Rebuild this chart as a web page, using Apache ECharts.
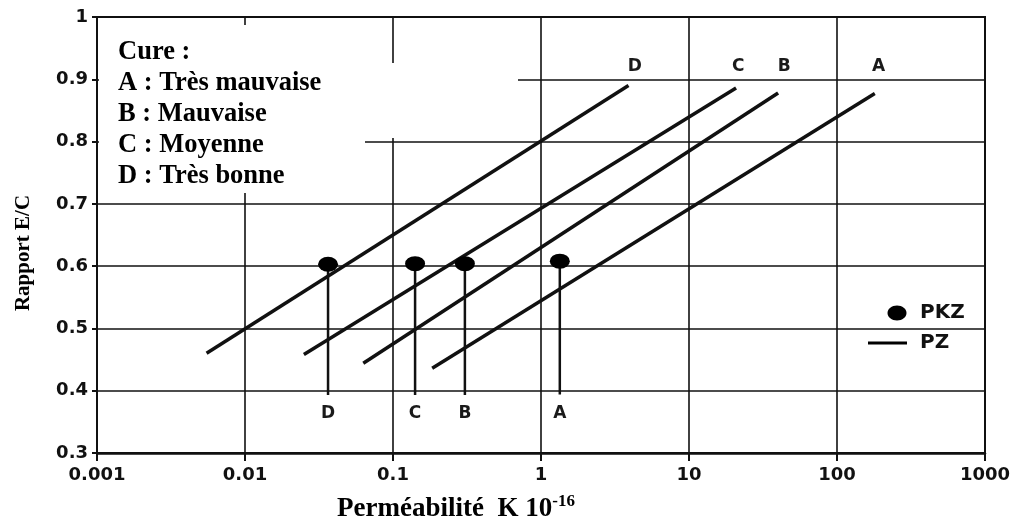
<!DOCTYPE html>
<html><head><meta charset="utf-8">
<script src="https://cdn.jsdelivr.net/npm/echarts@6/dist/echarts.min.js"></script>
<style>html,body{margin:0;padding:0;background:#fff}#c{width:1026px;height:528px}</style>
</head><body><div id="c"></div>
<script>
// ---- data ----
const curveNames = ['A', 'B', 'C', 'D'];
const curveStartK = [0.184, 0.063, 0.025, 0.0055];
const curveStartEC = [0.436, 0.444, 0.458, 0.460];
const curveEndK = [180, 40, 20.8, 3.9];
const curveEndEC = [0.877, 0.878, 0.886, 0.890];
const curveLabelK = [191, 44, 21.5, 4.3];
const curveLabelEC = [0.92, 0.92, 0.92, 0.92];
const pkzK = [1.34, 0.306, 0.141, 0.0364];
const pkzEC = [0.608, 0.604, 0.604, 0.603];
const stemBottomEC = [0.394, 0.393, 0.393, 0.393];
const stemLabelEC = [0.363, 0.363, 0.363, 0.363];
const xTickLabels = ['0.001', '0.01', '0.1', '1', '10', '100', '1000'];
const yTickLabels = ['0.3', '0.4', '0.5', '0.6', '0.7', '0.8', '0.9', '1'];
const cureTitle = 'Cure :';
const cureTexts = ['A : Très mauvaise', 'B : Mauvaise', 'C : Moyenne', 'D : Très bonne'];

const ink = '#111';
const tickFont = {fontFamily: 'DejaVu Sans', fontWeight: 'bold', fontSize: 18, color: ink};
const serifBold = {fontFamily: 'Liberation Serif', fontWeight: 'bold', color: '#000'};

const series = [];
curveNames.forEach((n, i) => {
  series.push({
    name: 'PZ', type: 'line', symbol: 'none', z: 3,
    lineStyle: {color: ink, width: 3.5},
    data: [[curveStartK[i], curveStartEC[i]], [curveEndK[i], curveEndEC[i]]]
  });
  series.push({
    name: 'stem' + n, type: 'line', symbol: 'none', z: 3,
    lineStyle: {color: ink, width: 2.5},
    data: [[pkzK[i], pkzEC[i]], [pkzK[i], stemBottomEC[i]]]
  });
});
series.push({
  name: 'PKZ', type: 'scatter', symbol: 'circle', symbolSize: [20, 15], z: 4,
  itemStyle: {color: '#000', opacity: 1},
  data: pkzK.map((k, i) => [k, pkzEC[i]])
});
series.push({
  name: 'labels', type: 'scatter', symbolSize: 0, z: 4,
  itemStyle: {color: '#000', opacity: 1},
  label: {show: true, position: 'inside', formatter: p => p.data[2], fontFamily: 'DejaVu Sans', fontWeight: 'bold', fontSize: 17, color: '#1a1a1a'},
  data: curveNames.map((n, i) => [curveLabelK[i], curveLabelEC[i], n])
    .concat(curveNames.map((n, i) => [pkzK[i], stemLabelEC[i], n]))
});

const chart = echarts.init(document.getElementById('c'), null, {renderer: 'canvas'});
chart.setOption({
  animation: false,
  backgroundColor: '#fff',
  grid: {left: 97, right: 41, top: 17, bottom: 69, show: true, borderColor: ink, borderWidth: 2, containLabel: false},
  title: {
    left: 118, top: 37, padding: 0,
    text: [cureTitle].concat(cureTexts).join('\n'),
    textStyle: {...serifBold, fontSize: 26.5, lineHeight: 31}
  },
  xAxis: {
    type: 'log', logBase: 10, min: 0.001, max: 1000,
    name: '{a|Perméabilité  K 10}{b|-16}', nameLocation: 'middle', nameGap: 40,
    nameTextStyle: {padding: [0, 170, 0, 0], rich: {
      a: {...serifBold, fontSize: 27, lineHeight: 30, verticalAlign: 'bottom'},
      b: {...serifBold, fontSize: 17, lineHeight: 30, verticalAlign: 'top'}
    }},
    axisLine: {lineStyle: {color: ink, width: 2.5}},
    axisTick: {show: true, length: 8, lineStyle: {color: ink, width: 2}},
    axisLabel: {...tickFont, margin: 13, formatter: v => xTickLabels[Math.round(Math.log10(v)) + 3]},
    splitLine: {show: true, lineStyle: {color: ink, width: 1.6}},
    minorTick: {show: false}
  },
  yAxis: {
    type: 'value', min: 0.3, max: 1, interval: 0.1,
    name: 'Rapport E/C', nameLocation: 'middle', nameGap: 63,
    nameTextStyle: {...serifBold, fontSize: 21, padding: [0, 36, 0, 0]},
    axisLine: {show: true, lineStyle: {color: ink, width: 2}},
    axisTick: {show: true, length: 5, lineStyle: {color: ink, width: 2}},
    axisLabel: {...tickFont, margin: 9, formatter: v => yTickLabels[Math.round(v * 10) - 3]},
    splitLine: {show: true, lineStyle: {color: ink, width: 1.6}}
  },
  graphic: [
    {type: 'rect', z: 1, silent: true, shape: {x: 99, y: 25, width: 266, height: 168}, style: {fill: '#fff'}},
    {type: 'rect', z: 1, silent: true, shape: {x: 364, y: 63, width: 154, height: 75}, style: {fill: '#fff'}},
    {type: 'ellipse', z: 5, silent: true, shape: {cx: 897, cy: 313, rx: 9.5, ry: 7.5}, style: {fill: '#000'}},
    {type: 'line', z: 5, silent: true, shape: {x1: 868, y1: 343, x2: 907, y2: 343}, style: {stroke: '#000', lineWidth: 3}},
    {type: 'text', z: 5, silent: true, x: 920, y: 313, style: {text: 'PKZ', font: 'bold 20px "DejaVu Sans"', fill: ink, verticalAlign: 'middle'}},
    {type: 'text', z: 5, silent: true, x: 920, y: 343, style: {text: 'PZ', font: 'bold 20px "DejaVu Sans"', fill: ink, verticalAlign: 'middle'}}
  ],
  series: series
});
</script></body></html>
